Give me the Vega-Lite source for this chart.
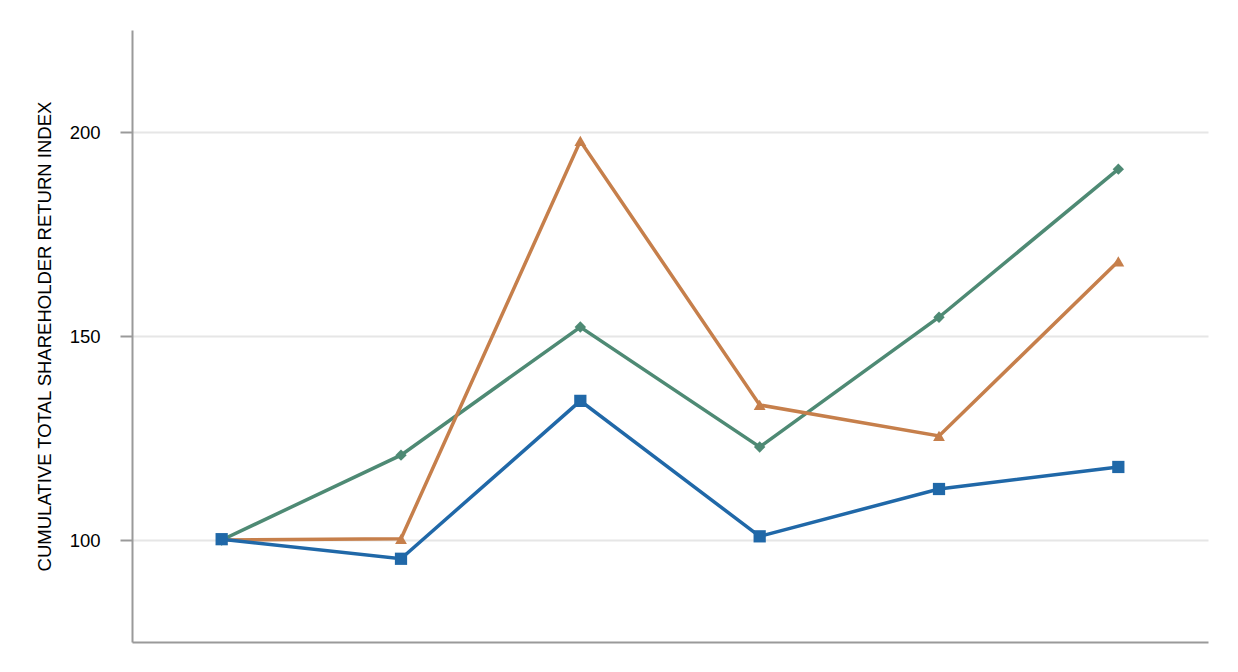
{
  "$schema": "https://vega.github.io/schema/vega-lite/v6.json",
  "width": 1076,
  "height": 612,
  "autosize": {"type": "none"},
  "padding": {"left": 132, "top": 30, "right": 30, "bottom": 30},
  "background": "white",
  "config": {"view": {"stroke": null}, "font": "Liberation Sans"},
  "data": {
    "values": [
      {"year": "2018", "series": "Index B", "value": 100},
      {"year": "2019", "series": "Index B", "value": 120.8},
      {"year": "2020", "series": "Index B", "value": 152.2},
      {"year": "2021", "series": "Index B", "value": 122.8},
      {"year": "2022", "series": "Index B", "value": 154.6},
      {"year": "2023", "series": "Index B", "value": 190.9},
      {"year": "2018", "series": "Index A", "value": 100},
      {"year": "2019", "series": "Index A", "value": 100.3},
      {"year": "2020", "series": "Index A", "value": 197.8},
      {"year": "2021", "series": "Index A", "value": 133.1},
      {"year": "2022", "series": "Index A", "value": 125.5},
      {"year": "2023", "series": "Index A", "value": 168.3},
      {"year": "2018", "series": "Company", "value": 100.2},
      {"year": "2019", "series": "Company", "value": 95.4},
      {"year": "2020", "series": "Company", "value": 134.1},
      {"year": "2021", "series": "Company", "value": 100.9},
      {"year": "2022", "series": "Company", "value": 112.5},
      {"year": "2023", "series": "Company", "value": 117.9}
    ]
  },
  "encoding": {
    "x": {
      "field": "year",
      "type": "ordinal",
      "scale": {"type": "point", "padding": 0.5},
      "axis": {
        "title": null,
        "labels": false,
        "ticks": false,
        "grid": false,
        "domainColor": "#9a9a9a",
        "domainWidth": 2
      }
    },
    "y": {
      "field": "value",
      "type": "quantitative",
      "scale": {"domain": [75, 225], "nice": false, "zero": false},
      "axis": {
        "values": [100, 150, 200],
        "title": "CUMULATIVE TOTAL SHAREHOLDER RETURN INDEX",
        "titleFont": "Liberation Sans",
        "titleFontSize": 18.5,
        "titleFontWeight": "normal",
        "titleColor": "#000000",
        "titlePadding": 15,
        "labelFont": "Liberation Sans",
        "labelFontSize": 18.5,
        "labelColor": "#000000",
        "labelPadding": 20,
        "tickSize": 12,
        "tickColor": "#9a9a9a",
        "tickWidth": 2,
        "domainColor": "#9a9a9a",
        "domainWidth": 2,
        "gridColor": "#e6e6e6",
        "gridWidth": 2
      }
    },
    "color": {
      "field": "series",
      "type": "nominal",
      "scale": {
        "domain": ["Company", "Index A", "Index B"],
        "range": ["#2068a8", "#c67f4b", "#4e8a74"]
      },
      "legend": null
    }
  },
  "layer": [
    {
      "mark": {"type": "line", "strokeWidth": 3.5},
      "encoding": {
        "order": {"field": "year"}
      }
    },
    {
      "mark": {"type": "point", "filled": true, "opacity": 1},
      "encoding": {
        "shape": {
          "field": "series",
          "type": "nominal",
          "scale": {
            "domain": ["Company", "Index A", "Index B"],
            "range": ["square", "triangle-up", "diamond"]
          },
          "legend": null
        },
        "size": {
          "field": "series",
          "type": "nominal",
          "scale": {
            "domain": ["Company", "Index A", "Index B"],
            "range": [150, 130, 90]
          },
          "legend": null
        }
      }
    }
  ]
}
